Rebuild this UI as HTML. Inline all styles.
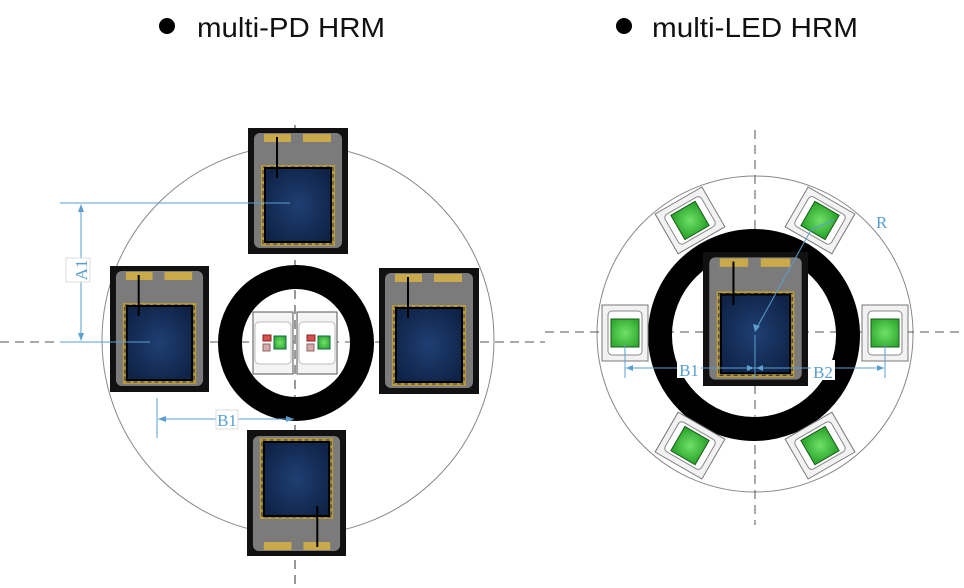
<!DOCTYPE html>
<html><head><meta charset="utf-8"><style>
html,body{margin:0;padding:0;background:#fff;}
svg{display:block;}
text{font-family:"Liberation Sans",sans-serif;}
.dim{font-family:"Liberation Serif",serif;fill:#5a9fd0;font-size:17px;}
</style></head>
<body>
<svg id="s" width="964" height="588" viewBox="0 0 964 588" xmlns="http://www.w3.org/2000/svg">
<defs>
<radialGradient id="blue" cx="50%" cy="50%" r="60%"><stop offset="0" stop-color="#1f3f73"/><stop offset="1" stop-color="#0f2347"/></radialGradient>
<radialGradient id="green" cx="50%" cy="50%" r="60%"><stop offset="0" stop-color="#6fe06a"/><stop offset="1" stop-color="#2ea82e"/></radialGradient>
</defs>
<g>
<circle cx="167" cy="26" r="8" fill="#000"/>
<text x="197" y="37" font-size="28" textLength="188" lengthAdjust="spacingAndGlyphs" fill="#111">multi-PD HRM</text>
</g>
<g>
<circle cx="624" cy="26" r="8" fill="#000"/>
<text x="652" y="37" font-size="28" textLength="206" lengthAdjust="spacingAndGlyphs" fill="#111">multi-LED HRM</text>
</g>

<g id="left">
<ellipse cx="298" cy="340" rx="196" ry="195" fill="none" stroke="#888" stroke-width="1"/>
<line x1="0" y1="342" x2="545" y2="342" stroke="#555" stroke-dasharray="9,6"/>
<line x1="295" y1="125" x2="295" y2="588" stroke="#999" stroke-width="2" stroke-dasharray="9,6"/>
<circle cx="296" cy="343" r="66" fill="none" stroke="#000" stroke-width="24"/>
<g id="pds"></g>
<g id="pdleds"></g>
<g stroke="#5a9fd0" stroke-width="1">
<line x1="60" y1="203" x2="290" y2="203"/>
<line x1="60" y1="342" x2="150" y2="342"/>
<line x1="81" y1="205" x2="81" y2="340"/>
<path d="M78,212 L81,204 L84,212 Z M78,333 L81,341 L84,333 Z" fill="#5a9fd0" stroke="none"/>
</g>
<rect x="66" y="258" width="24" height="24" fill="#fff" stroke="#ddd"/>
<text class="dim" x="0" y="0" transform="translate(87,270) rotate(-90)" text-anchor="middle">A1</text>
<g stroke="#5a9fd0" stroke-width="1">
<line x1="157" y1="398" x2="157" y2="438"/>
<line x1="158" y1="419" x2="294" y2="419"/>
<path d="M166,416 L158,419 L166,422 Z M286,416 L294,419 L286,422 Z" fill="#5a9fd0" stroke="none"/>
</g>
<rect x="216" y="410" width="22" height="19" fill="#fff" stroke="#ddd"/>
<text class="dim" x="227" y="426" text-anchor="middle">B1</text>
</g>

<g id="right">
<circle cx="755" cy="334" r="158" fill="none" stroke="#888" stroke-width="1"/>
<line x1="545" y1="332" x2="964" y2="332" stroke="#555" stroke-dasharray="9,6"/>
<line x1="755" y1="130" x2="755" y2="525" stroke="#555" stroke-dasharray="9,6"/>
<circle cx="754" cy="335" r="94" fill="none" stroke="#000" stroke-width="24"/>
<g id="rpd"></g>
<g id="rleds"></g>
<g stroke="#5a9fd0" stroke-width="1">
<line x1="755" y1="331" x2="811" y2="230"/>
<line x1="811" y1="230" x2="834" y2="220"/>
<path d="M753,324 L755,332 L760,326 Z" fill="#5a9fd0" stroke="none"/>
</g>
<text class="dim" x="876" y="228">R</text>
<g stroke="#5a9fd0" stroke-width="1">
<line x1="625" y1="345" x2="625" y2="378"/>
<line x1="885" y1="345" x2="885" y2="378"/>
<line x1="755" y1="335" x2="755" y2="378"/>
<line x1="626" y1="368" x2="884" y2="368"/>
<path d="M633,365 L626,368 L633,371 Z M747,365 L754,368 L747,371 Z M763,365 L756,368 L763,371 Z M877,365 L884,368 L877,371 Z" fill="#5a9fd0" stroke="none"/>
</g>
<rect x="677" y="358" width="24" height="20" fill="#fff"/>
<text class="dim" x="689" y="376" text-anchor="middle">B1</text>
<rect x="811" y="360" width="24" height="20" fill="#fff"/>
<text class="dim" x="823" y="378" text-anchor="middle">B2</text>
</g>
</svg>
<script>
const NS='http://www.w3.org/2000/svg';
const ledAngles=[180,0,120,60,240,300];
const ledRadius=130;
function mk(tag,attrs,parent){const e=document.createElementNS(NS,tag);for(const k in attrs)e.setAttribute(k,attrs[k]);parent.appendChild(e);return e;}
function pd(parent,x,y,w,h,flip,name){
  const g=mk('g',{transform:`translate(${x},${y})`+(flip?` rotate(180 ${w/2} ${h/2})`:'')},parent);
  
  
  const sx=w/100, sy=h/126;
  mk('rect',{x:0,y:0,width:w,height:h,fill:'#111'},g);
  mk('rect',{x:6*sx,y:5*sy,width:w-12*sx,height:h-11*sy,rx:6,fill:'#7b7b7b'},g);
  mk('rect',{x:16*sx,y:6*sy,width:27*sx,height:8*sy,fill:'#c9a94a'},g);
  mk('rect',{x:55*sx,y:6*sy,width:28*sx,height:8*sy,fill:'#c9a94a'},g);
  mk('rect',{x:13*sx,y:37*sy,width:74*sx,height:81*sy,fill:'#b89a3e'},g);
  mk('rect',{x:15*sx,y:39*sy,width:70*sx,height:77*sy,fill:'none',stroke:'#333',"stroke-dasharray":'4,3','stroke-width':1},g);
  mk('rect',{x:17*sx,y:40*sy,width:66*sx,height:74*sy,fill:'url(#blue)',stroke:'#000','stroke-width':2},g);
  mk('line',{x1:29*sx,y1:9*sy,x2:29*sx,y2:50*sy,stroke:'#000','stroke-width':2},g);
}
const pds=document.getElementById('pds');
pd(pds,248,128,100,126,false,'pd-top');
pd(pds,110,266,99,126,false,'pd-left');
pd(pds,379,268,100,126,false,'pd-right');
pd(pds,247,430,99,126,true,'pd-bottom');
const pl=document.getElementById('pdleds');
[253,297].forEach((x,i)=>{
  const g=mk('g',{transform:`translate(${x},312)`},pl);
  
  
  mk('rect',{x:0,y:0,width:40,height:62,fill:'#f4f4f4',stroke:'#555','stroke-width':1},g);
  mk('rect',{x:2,y:10,width:36,height:42,rx:4,fill:'#fff',stroke:'#bbb'},g);
  mk('rect',{x:10,y:23,width:8,height:6,fill:'#d65050',stroke:'#822'},g);
  mk('rect',{x:10,y:32,width:7,height:7,fill:'#d8aaaa',stroke:'#866'},g);
  mk('rect',{x:21,y:24,width:12,height:13,fill:'url(#green)',stroke:'#164'},g);
});
const rp=document.getElementById('rpd');
pd(rp,703,252,105,134,false,'center-pd');
const rl=document.getElementById('rleds');
ledAngles.forEach((a,i)=>{
  const r=a*Math.PI/180;
  const cx=755+ledRadius*Math.cos(r), cy=333-ledRadius*Math.sin(r);
  const rot=(a===0||a===180)?0:(90-a);
  const g=mk('g',{transform:`translate(${cx},${cy}) rotate(${rot})`},rl);
  
  
  const w=(a===0||a===180)?46:54, h=(a===0||a===180)?56:46;
  mk('rect',{x:-w/2,y:-h/2,width:w,height:h,fill:'#f2f2f2',stroke:'#777'},g);
  mk('rect',{x:-w/2+6,y:-h/2+6,width:w-12,height:h-12,rx:4,fill:'#fff',stroke:'#888'},g);
  mk('rect',{x:-14,y:-14,width:28,height:28,fill:'url(#green)',stroke:'#1a5a1a'},g);
});
</script>
</body></html>
